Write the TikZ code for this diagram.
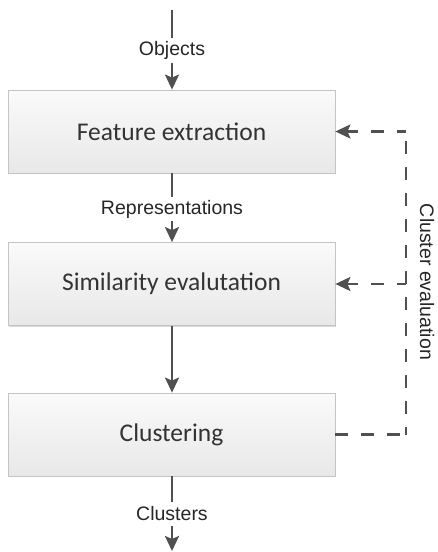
\documentclass[tikz,border=0pt]{standalone}
\usepackage{fontspec}
\setmainfont{Liberation Sans}
\newfontfamily\boxfont{Carlito}
\usetikzlibrary{arrows.meta,shadows}
\definecolor{linegray}{HTML}{505050}
\definecolor{boxborder}{HTML}{C4C4C4}
\tikzset{
  procbox/.style={draw=boxborder, line width=0.8pt, top color=white!98!black, bottom color=white!91!black,
    minimum width=327pt, minimum height=83pt, inner sep=0pt,
    font=\boxfont\fontsize{25.5}{30}\selectfont, text=black!80,
    drop shadow={shadow xshift=1.2pt, shadow yshift=-1.2pt, opacity=0.25, fill=black!60}},
  flowlabel/.style={inner sep=0pt, minimum height=24pt, font=\fontsize{19.5}{23}\selectfont, text=black!85},
  flow/.style={draw=linegray, line width=2.6pt},
  flowarrow/.style={flow, -{Stealth[length=15pt,width=14pt,inset=3pt]}},
  fbdash/.style={draw=linegray, line width=2.6pt, dash pattern=on 13pt off 13pt},
  fbarrow/.style={fbdash, -{Stealth[length=15pt,width=14pt,inset=3pt]}}
}
\begin{document}
\begin{tikzpicture}[x=1pt,y=-1pt]
\useasboundingbox (0,0) rectangle (438,552);
\fill[white] (0,0) rectangle (438,552);

\node[procbox] (fe) at (171.5,131.5) {Feature extraction};
\node[procbox] (se) at (171.5,284) {Similarity evalutation};
\node[procbox] (cl) at (171.5,434.5) {Clustering};

\coordinate (top) at (172,10);
\node[flowlabel] (obj) at (172,50.5) {Objects};
\node[flowlabel] (rep) at (172,209) {Representations};
\node[flowlabel] (clu) at (172,514) {Clusters};
\coordinate (bot) at (172,551);

\draw[flow] (top) -- (obj.north);
\draw[flowarrow] (obj.south) -- (obj.south |- fe.north);
\draw[flow] (fe.south -| rep.north) -- (rep.north);
\draw[flowarrow] (rep.south) -- (rep.south |- se.north);
\draw[flowarrow] (se.south -| rep.south) -- (rep.south |- cl.north);
\draw[flow] (cl.south -| clu.north) -- (clu.north);
\draw[flowarrow] (clu.south) -- (bot);

% feedback
\coordinate (c1) at (406,434.5);
\coordinate (c2) at (406,131.5);
\coordinate (c3) at (406,284);
\draw[fbdash] (cl.east) -- (c1);
\draw[fbdash, dash phase=5pt] (c1) -- (c2);
\draw[fbarrow, dash phase=4pt] (c2) -- (fe.east);
\draw[fbarrow, dash phase=4pt] (c3) -- (se.east);
\node[flowlabel, rotate=-90] (ce) at (427,282) {Cluster evaluation};
\end{tikzpicture}
\end{document}
